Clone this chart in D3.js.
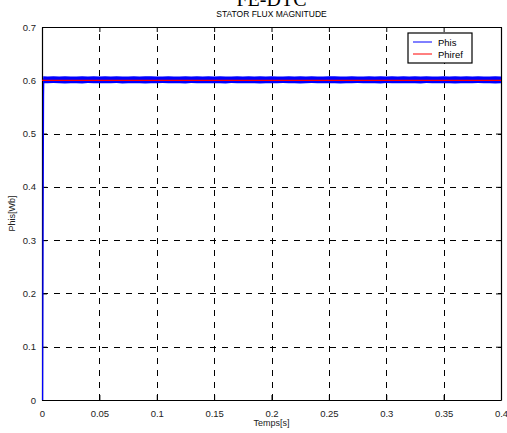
<!DOCTYPE html>
<html>
<head>
<meta charset="utf-8">
<script src="https://cdn.jsdelivr.net/npm/d3@7"></script>
<style>
  html, body { margin: 0; padding: 0; background: #ffffff; }
  svg { display: block; }
  text { font-family: Arial, "Liberation Sans", sans-serif; }
</style>
</head>
<body>
<svg id="chart" width="507" height="433"></svg>
<script>
// Stator flux magnitude, FE-DTC drive
const xTicks = [0, 0.05, 0.1, 0.15, 0.2, 0.25, 0.3, 0.35, 0.4];
const yTicks = [0, 0.1, 0.2, 0.3, 0.4, 0.5, 0.6, 0.7];
const seriesNames = ["Phis", "Phiref"];

// start-up transient of the estimated flux
const riseTime = [0, 0.0002, 0.0004, 0.0006, 0.0008, 0.001];
const riseFlux = [0, 0.16, 0.31, 0.45, 0.57, 0.604];

// steady-state ripple band of Phis, every 5 ms from 0 to 0.4 s
const phisUpper = [0.6076,0.6072,0.6074,0.6070,0.6077,0.6073,0.6071,0.6075,0.6072,0.6078,
                   0.6070,0.6074,0.6072,0.6076,0.6071,0.6073,0.6075,0.6069,0.6074,0.6077,
                   0.6072,0.6070,0.6075,0.6073,0.6071,0.6076,0.6072,0.6074,0.6070,0.6075,
                   0.6073,0.6078,0.6071,0.6072,0.6076,0.6070,0.6074,0.6072,0.6075,0.6071,
                   0.6077,0.6073,0.6070,0.6074,0.6072,0.6076,0.6071,0.6075,0.6073,0.6070,
                   0.6074,0.6077,0.6072,0.6071,0.6075,0.6073,0.6070,0.6076,0.6072,0.6074,
                   0.6071,0.6075,0.6073,0.6078,0.6070,0.6074,0.6072,0.6076,0.6071,0.6073,
                   0.6075,0.6070,0.6074,0.6072,0.6077,0.6071,0.6075,0.6073,0.6070,0.6074,0.6072];
const phisLower = [0.5946,0.5943,0.5947,0.5944,0.5942,0.5946,0.5945,0.5941,0.5947,0.5944,
                   0.5946,0.5943,0.5945,0.5947,0.5942,0.5946,0.5944,0.5945,0.5941,0.5946,
                   0.5944,0.5947,0.5943,0.5945,0.5946,0.5942,0.5947,0.5944,0.5945,0.5943,
                   0.5946,0.5944,0.5942,0.5947,0.5945,0.5943,0.5946,0.5944,0.5941,0.5946,
                   0.5945,0.5943,0.5947,0.5944,0.5946,0.5942,0.5945,0.5947,0.5943,0.5946,
                   0.5944,0.5945,0.5942,0.5946,0.5944,0.5947,0.5943,0.5945,0.5946,0.5942,
                   0.5947,0.5944,0.5945,0.5943,0.5946,0.5944,0.5942,0.5947,0.5945,0.5943,
                   0.5946,0.5944,0.5941,0.5946,0.5945,0.5943,0.5947,0.5944,0.5946,0.5942,0.5945];

// flux reference
const refTime = [0, 0.4];
const refFlux = [0.6, 0.6];

const svg = d3.select("#chart");
const margin = { left: 42, top: 27, right: 6, bottom: 33 };
const W = 507, H = 433;
const x = d3.scaleLinear().domain([0, 0.4]).range([margin.left, W - margin.right]);
const y = d3.scaleLinear().domain([0, 0.7]).range([H - margin.bottom, margin.top]);
const [x0, x1] = x.range();
const [y0, y1] = y.range();

// titles
svg.append("text").attr("x", (x0 + x1) / 2).attr("y", 6)
  .attr("text-anchor", "middle")
  .style("font-family", "'Liberation Serif', 'Times New Roman', serif")
  .style("font-size", "20px").attr("fill", "#000").text("FE-DTC");
svg.append("text").attr("x", (x0 + x1) / 2).attr("y", 17)
  .attr("text-anchor", "middle").style("font-size", "8.5px").attr("fill", "#000")
  .text("STATOR FLUX MAGNITUDE");

// dashed grid
const grid = svg.append("g").attr("stroke", "#000").attr("stroke-width", 1)
  .attr("stroke-dasharray", "6,6");
grid.selectAll("line.v").data(xTicks.slice(1, -1)).join("line")
  .attr("x1", d => Math.round(x(d)) + 0.5).attr("x2", d => Math.round(x(d)) + 0.5)
  .attr("y1", y0).attr("y2", y1);
grid.selectAll("line.h").data(yTicks.slice(1, -1)).join("line")
  .attr("y1", d => Math.round(y(d)) + 0.5).attr("y2", d => Math.round(y(d)) + 0.5)
  .attr("x1", x0).attr("x2", x1);

// axes (ticks pointing inwards on all four sides)
const tl = 5;
const fmt = d => (d === 0 ? "0" : d3.format("")(+d.toFixed(2)));
const axBottom = svg.append("g").attr("transform", `translate(0,${y0})`)
  .call(d3.axisBottom(x).tickValues(xTicks).tickSizeInner(-tl).tickSizeOuter(0).tickPadding(10).tickFormat(fmt));
const axTop = svg.append("g").attr("transform", `translate(0,${y1})`)
  .call(d3.axisTop(x).tickValues(xTicks).tickSizeInner(-tl).tickSizeOuter(0).tickFormat(""));
const axLeft = svg.append("g").attr("transform", `translate(${x0},0)`)
  .call(d3.axisLeft(y).tickValues(yTicks).tickSizeInner(-tl).tickSizeOuter(0).tickPadding(10).tickFormat(fmt));
const axRight = svg.append("g").attr("transform", `translate(${x1},0)`)
  .call(d3.axisRight(y).tickValues(yTicks).tickSizeInner(-tl).tickSizeOuter(0).tickFormat(""));
[axBottom, axTop, axLeft, axRight].forEach(g => {
  g.select(".domain").attr("stroke", "#000").attr("stroke-width", 1.2);
  g.selectAll(".tick line").attr("stroke", "#000");
  g.selectAll(".tick text").style("font-size", "9.5px").attr("fill", "#222")
    .style("font-family", "Arial, 'Liberation Sans', sans-serif");
});
axLeft.selectAll(".tick text").attr("dx", "4px");

// data, drawn over the axis frame
const bandData = d3.range(phisUpper.length).map(i => ({
  t: Math.max(i * 0.005, 0.001), hi: phisUpper[i], lo: phisLower[i]
}));
svg.append("path").datum(bandData)
  .attr("d", d3.area().x(d => x(d.t)).y0(d => y(d.lo)).y1(d => y(d.hi)))
  .attr("fill", "#0000ff");
svg.append("path").datum(riseTime.map((t, i) => [t, riseFlux[i]]))
  .attr("d", d3.line().x(d => x(d[0]) + 0.6).y(d => y(d[1])))
  .attr("fill", "none").attr("stroke", "#0000ff").attr("stroke-width", 1.3);
svg.append("path").datum(refTime.map((t, i) => [t, refFlux[i]]))
  .attr("d", d3.line().x(d => x(d[0])).y(d => y(d[1])))
  .attr("fill", "none").attr("stroke", "#ff0000").attr("stroke-width", 1.3);

// axis labels
svg.append("text").attr("x", (x0 + x1) / 2).attr("y", 426)
  .attr("text-anchor", "middle").style("font-size", "9px").attr("fill", "#222").text("Temps[s]");
svg.append("text").attr("transform", `translate(15,${(y0 + y1) / 2}) rotate(-90)`)
  .attr("text-anchor", "middle").style("font-size", "9px").attr("fill", "#222").text("Phis[Wb]");

// legend
const colors = ["#0000ff", "#ff0000"];
const lg = svg.append("g").attr("transform", "translate(408,33)");
lg.append("rect").attr("width", 64).attr("height", 30)
  .attr("fill", "#fff").attr("stroke", "#000").attr("stroke-width", 1.2);
seriesNames.forEach((name, i) => {
  lg.append("line").attr("x1", 5).attr("x2", 24).attr("y1", 9 + i * 12).attr("y2", 9 + i * 12)
    .attr("stroke", colors[i]).attr("stroke-width", 1);
  lg.append("text").attr("x", 30).attr("y", 12.5 + i * 12)
    .style("font-size", "9.5px").attr("fill", "#000").text(name);
});
</script>
</body>
</html>
